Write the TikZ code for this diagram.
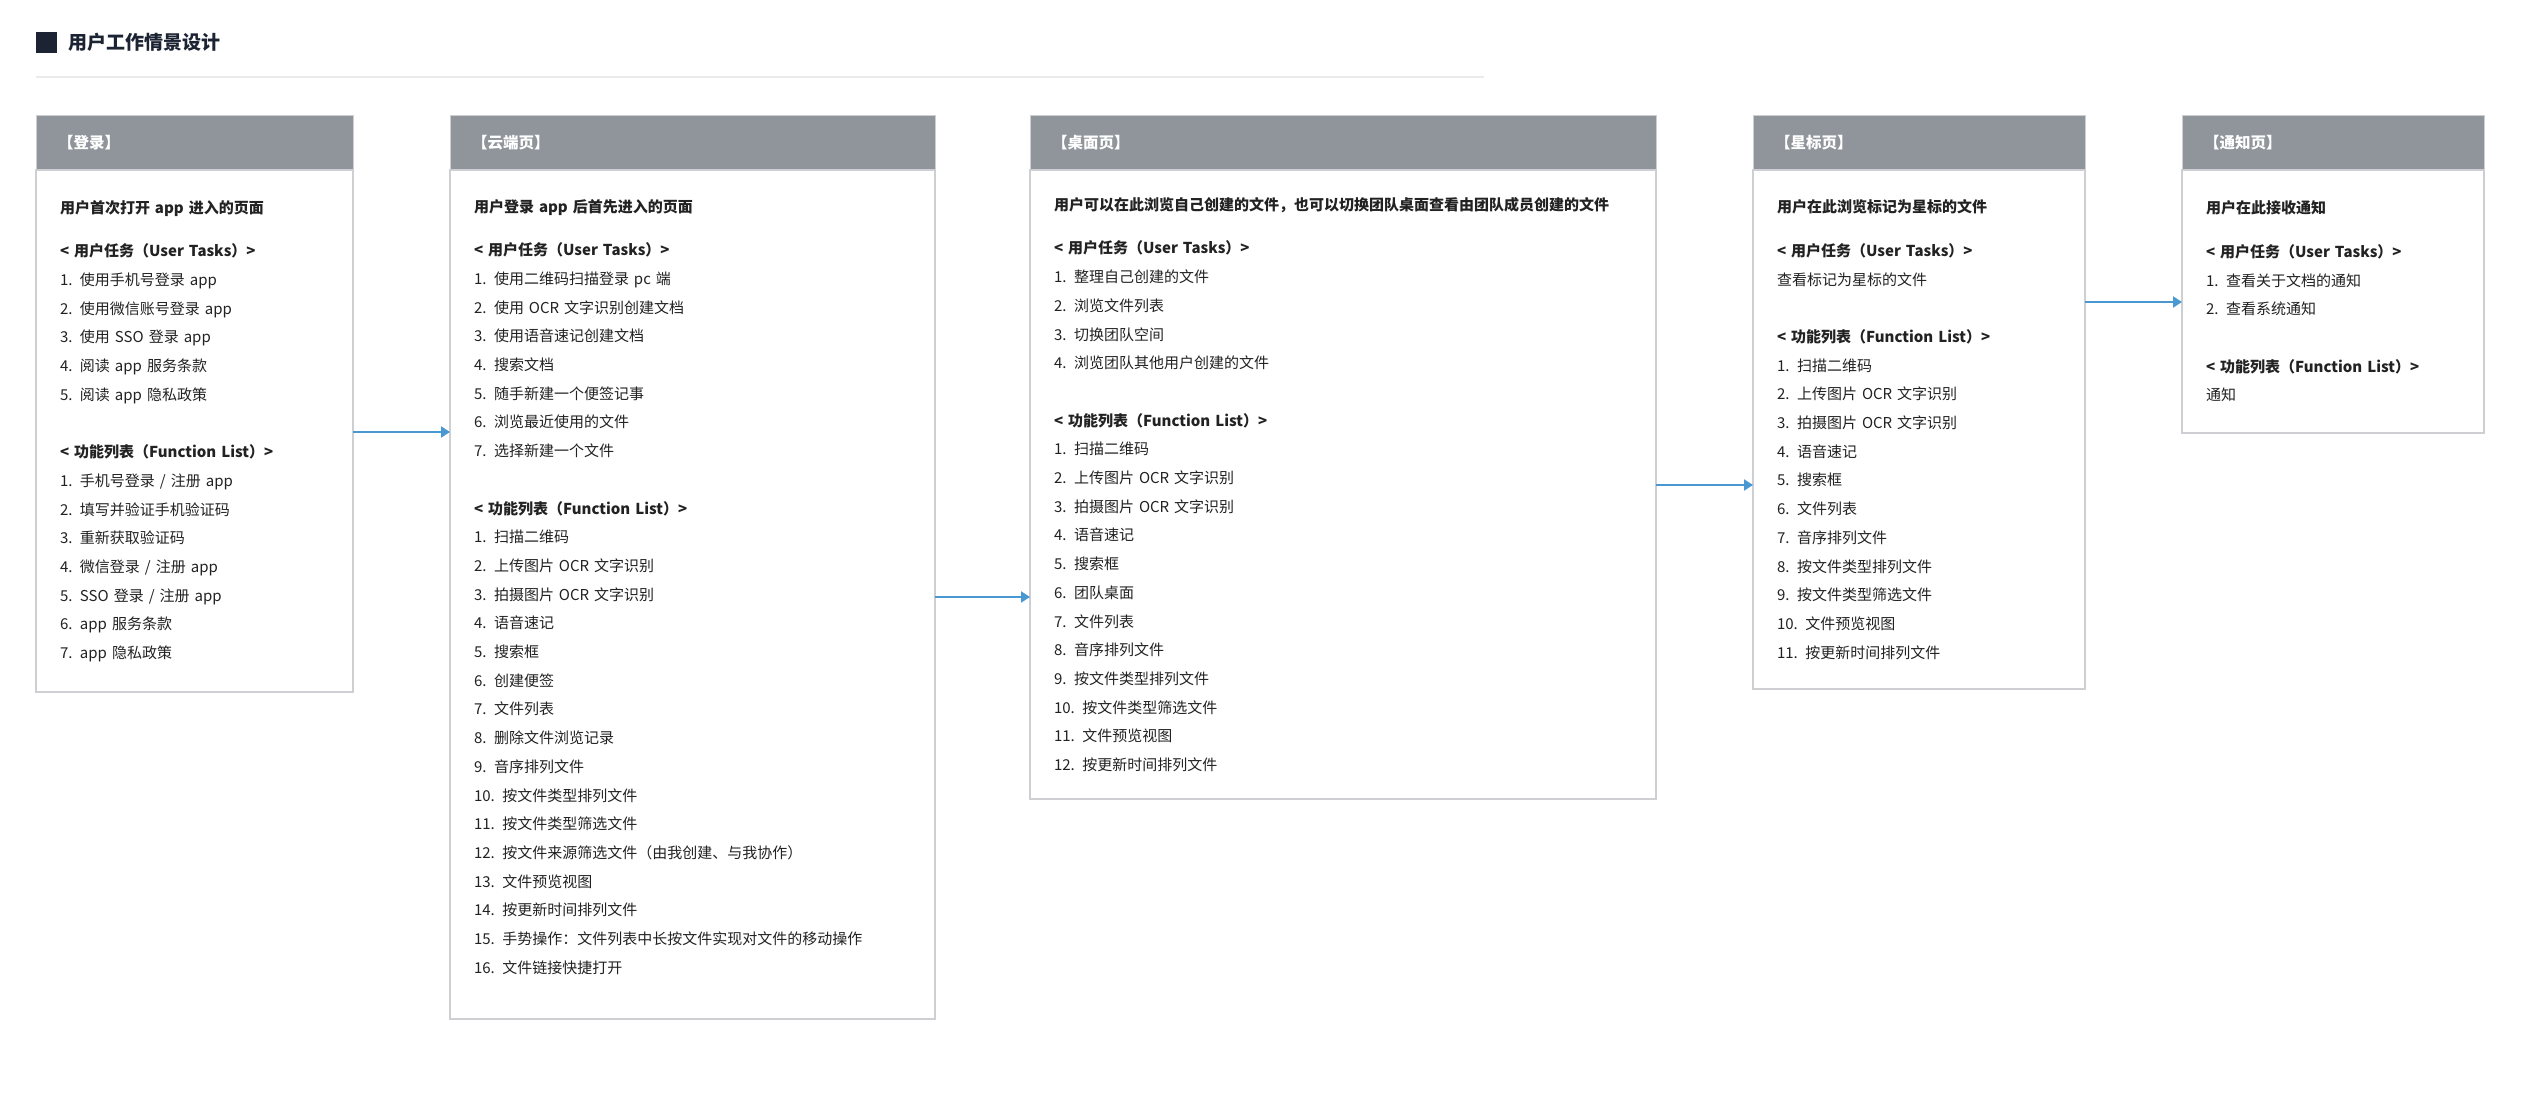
\documentclass[tikz,border=0pt]{standalone}
\usepackage{fontspec}
\setmainfont{Noto Sans CJK SC}
\usepackage{xcolor}
\usepackage{tikz}
\usetikzlibrary{arrows.meta,positioning}
\definecolor{hdgray}{HTML}{8F959B}
\definecolor{linegray}{HTML}{CDCFD2}
\definecolor{arrblue}{HTML}{4A98D2}
\definecolor{inkdark}{HTML}{1C2433}
\definecolor{txtdark}{HTML}{222222}
\definecolor{rulegray}{HTML}{EBEBEB}

\begin{document}
\begin{tikzpicture}[x=1pt, y=-1pt,
  hd/.style={draw=linegray, fill=hdgray, text=white, line width=1pt,
    font=\fontsize{15.5}{18}\selectfont\bfseries, minimum height=54pt,
    inner xsep=22pt, inner ysep=0pt, outer sep=0pt, align=left},
  body/.style={draw=linegray, fill=white, text=txtdark, line width=1.2pt,
    font=\fontsize{15}{28.7}\selectfont, inner xsep=24pt, inner ysep=0pt,
    outer sep=0pt, align=left},
  arr/.style={-{Triangle[length=9pt,width=11pt]}, draw=arrblue, line width=2pt}
]
\useasboundingbox (0,0) rectangle (2536,1094);

% title
\node[fill=inkdark, minimum size=21pt, inner sep=0pt] (mark) at (46.5,42.5) {};
\node[right=11pt of mark, text=inkdark, font=\fontsize{19}{22}\selectfont\bfseries, inner sep=0pt] (title) {用户工作情景设计};
\draw[rulegray, line width=2pt] (36,77) -- (1484,77);

% cards
\node[hd, text width=273pt, anchor=north west] (hdLogin) at (36,116) {【登录】};
\node[body, text width=269pt, minimum height=522pt, below=0pt of hdLogin] (bdLogin) {%
\textbf{用户首次打开 app 进入的页面}\\[15pt]
\textbf{< 用户任务（User Tasks）>}\\
1. 使用手机号登录 app\\
2. 使用微信账号登录 app\\
3. 使用 SSO 登录 app\\
4. 阅读 app 服务条款\\
5. 阅读 app 隐私政策\\[28.7pt]
\textbf{< 功能列表（Function List）>}\\
1. 手机号登录 / 注册 app\\
2. 填写并验证手机验证码\\
3. 重新获取验证码\\
4. 微信登录 / 注册 app\\
5. SSO 登录 / 注册 app\\
6. app 服务条款\\
7. app 隐私政策};

\node[hd, text width=441pt, right=97pt of hdLogin] (hdCloud) {【云端页】};
\node[body, text width=437pt, minimum height=849pt, below=0pt of hdCloud] (bdCloud) {%
\textbf{用户登录 app 后首先进入的页面}\\[15pt]
\textbf{< 用户任务（User Tasks）>}\\
1. 使用二维码扫描登录 pc 端\\
2. 使用 OCR 文字识别创建文档\\
3. 使用语音速记创建文档\\
4. 搜索文档\\
5. 随手新建一个便签记事\\
6. 浏览最近使用的文件\\
7. 选择新建一个文件\\[28.7pt]
\textbf{< 功能列表（Function List）>}\\
1. 扫描二维码\\
2. 上传图片 OCR 文字识别\\
3. 拍摄图片 OCR 文字识别\\
4. 语音速记\\
5. 搜索框\\
6. 创建便签\\
7. 文件列表\\
8. 删除文件浏览记录\\
9. 音序排列文件\\
10. 按文件类型排列文件\\
11. 按文件类型筛选文件\\
12. 按文件来源筛选文件（由我创建、与我协作）\\
13. 文件预览视图\\
14. 按更新时间排列文件\\
15. 手势操作：文件列表中长按文件实现对文件的移动操作\\
16. 文件链接快捷打开\\[-12pt]\mbox{}};

\node[hd, text width=582pt, right=95pt of hdCloud] (hdDesk) {【桌面页】};
\node[body, text width=578pt, minimum height=629pt, below=0pt of hdDesk] (bdDesk) {%
\textbf{用户可以在此浏览自己创建的文件，也可以切换团队桌面查看由团队成员创建的文件}\\[15pt]
\textbf{< 用户任务（User Tasks）>}\\
1. 整理自己创建的文件\\
2. 浏览文件列表\\
3. 切换团队空间\\
4. 浏览团队其他用户创建的文件\\[28.7pt]
\textbf{< 功能列表（Function List）>}\\
1. 扫描二维码\\
2. 上传图片 OCR 文字识别\\
3. 拍摄图片 OCR 文字识别\\
4. 语音速记\\
5. 搜索框\\
6. 团队桌面\\
7. 文件列表\\
8. 音序排列文件\\
9. 按文件类型排列文件\\
10. 按文件类型筛选文件\\
11. 文件预览视图\\
12. 按更新时间排列文件};

\node[hd, text width=288pt, right=97pt of hdDesk] (hdStar) {【星标页】};
\node[body, text width=284pt, minimum height=519pt, below=0pt of hdStar] (bdStar) {%
\textbf{用户在此浏览标记为星标的文件}\\[15pt]
\textbf{< 用户任务（User Tasks）>}\\
查看标记为星标的文件\\[28.7pt]
\textbf{< 功能列表（Function List）>}\\
1. 扫描二维码\\
2. 上传图片 OCR 文字识别\\
3. 拍摄图片 OCR 文字识别\\
4. 语音速记\\
5. 搜索框\\
6. 文件列表\\
7. 音序排列文件\\
8. 按文件类型排列文件\\
9. 按文件类型筛选文件\\
10. 文件预览视图\\
11. 按更新时间排列文件};

\node[hd, text width=258pt, right=97pt of hdStar] (hdNotice) {【通知页】};
\node[body, text width=254pt, minimum height=263pt, below=0pt of hdNotice] (bdNotice) {%
\textbf{用户在此接收通知}\\[15pt]
\textbf{< 用户任务（User Tasks）>}\\
1. 查看关于文档的通知\\
2. 查看系统通知\\[28.7pt]
\textbf{< 功能列表（Function List）>}\\
通知};

% flow
\draw[arr] ([yshift=-262pt]bdLogin.north east) -- ([yshift=-262pt]bdCloud.north west);
\draw[arr] ([yshift=-427pt]bdCloud.north east) -- ([yshift=-427pt]bdDesk.north west);
\draw[arr] ([yshift=-315pt]bdDesk.north east) -- ([yshift=-315pt]bdStar.north west);
\draw[arr] ([yshift=-132pt]bdStar.north east) -- ([yshift=-132pt]bdNotice.north west);
\end{tikzpicture}
\end{document}
